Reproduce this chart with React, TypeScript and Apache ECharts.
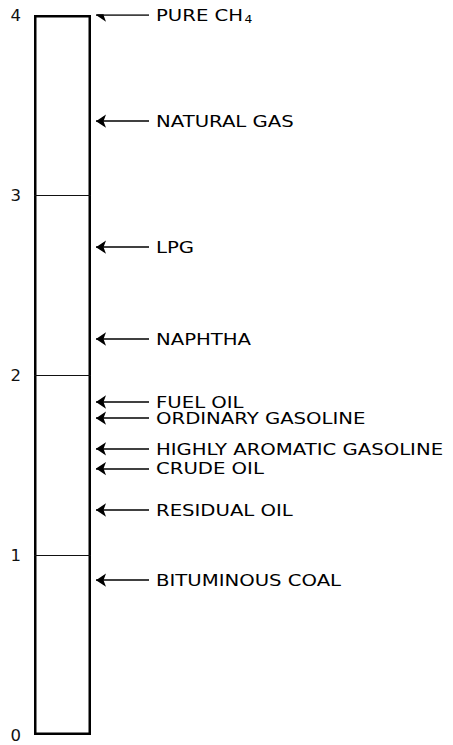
import React, { useEffect, useRef } from "react";
import * as echarts from "echarts";

// ---- data ----
const yTicks = [0, 1, 2, 3, 4];
const columnTotal = [4];
const dividers = [1, 2, 3];
const substances = [
  "PURE CH4",
  "NATURAL GAS",
  "LPG",
  "NAPHTHA",
  "FUEL OIL",
  "ORDINARY GASOLINE",
  "HIGHLY AROMATIC GASOLINE",
  "CRUDE OIL",
  "RESIDUAL OIL",
  "BITUMINOUS COAL",
];
const ratios = [4.0, 3.41, 2.71, 2.2, 1.85, 1.76, 1.59, 1.48, 1.25, 0.86];

// ---- layout (offsets in px from the column's right edge) ----
const ARROW_TIP = 5;
const ARROW_TAIL = 58;
const LABEL_X = 65;
const FONT = "'DejaVu Sans', Arial, sans-serif";

export default function App() {
  const ref = useRef<HTMLDivElement>(null);
  useEffect(() => {
    if (!ref.current) return;
    const chart = echarts.init(ref.current, null, { renderer: "svg" });
    const yMin = yTicks[0];
    const yMax = yTicks[yTicks.length - 1];
    chart.setOption({
      animation: false,
      backgroundColor: "#fff",
      grid: [
        { left: 34, width: 57, top: 15, bottom: 10 },
        { left: 91, right: 0, top: 15, bottom: 10 },
      ],
      xAxis: [
        { gridIndex: 0, type: "category", data: [""], show: false },
        { gridIndex: 1, type: "value", min: 0, max: 362, show: false },
      ],
      yAxis: [
        {
          gridIndex: 0,
          type: "value",
          min: yMin,
          max: yMax,
          interval: 1,
          axisLine: { show: false },
          axisTick: { show: false },
          splitLine: { show: false },
          axisLabel: { margin: 13, fontSize: 16.5, color: "#111", fontFamily: FONT },
        },
        { gridIndex: 1, type: "value", min: yMin, max: yMax, show: false },
      ],
      series: [
        {
          type: "bar",
          xAxisIndex: 0,
          yAxisIndex: 0,
          data: columnTotal,
          barWidth: "100%",
          itemStyle: { color: "#fff", borderColor: "#000", borderWidth: 2.5 },
          markLine: {
            silent: true,
            symbol: "none",
            label: { show: false },
            lineStyle: { color: "#111", width: 1.2, type: "solid" },
            data: dividers.map((v) => ({ yAxis: v })),
          },
        },
        {
          type: "lines",
          coordinateSystem: "cartesian2d",
          xAxisIndex: 1,
          yAxisIndex: 1,
          symbol: ["none", "arrow"],
          symbolSize: 10,
          lineStyle: { color: "#000", width: 1.6, opacity: 1 },
          data: ratios.map((v) => ({ coords: [[ARROW_TAIL, v], [ARROW_TIP, v]] })),
        },
        {
          type: "custom",
          xAxisIndex: 1,
          yAxisIndex: 1,
          data: ratios.map((v) => [LABEL_X, v]),
          renderItem: (params: any, api: any) => {
            const p = api.coord([api.value(0), api.value(1)]);
            const name = substances[params.dataIndex];
            const isCH4 = name === "PURE CH4";
            return {
              type: "text",
              x: p[0],
              y: p[1],
              scaleX: 1.23,
              style: {
                text: isCH4 ? "PURE CH{sub|4}" : name,
                fontSize: 16,
                fontFamily: FONT,
                fill: "#000",
                align: "left",
                verticalAlign: "middle",
                rich: isCH4
                  ? {
                      sub: { fontSize: 10, fontFamily: FONT, fill: "#000", padding: [10, 0, 0, 1] },
                    }
                  : undefined,
              },
            };
          },
        },
      ],
    });
    return () => chart.dispose();
  }, []);
  return (
    <div
      ref={ref}
      style={{ position: "absolute", left: 0, top: 0, width: 453, height: 745, background: "#fff" }}
    />
  );
}
